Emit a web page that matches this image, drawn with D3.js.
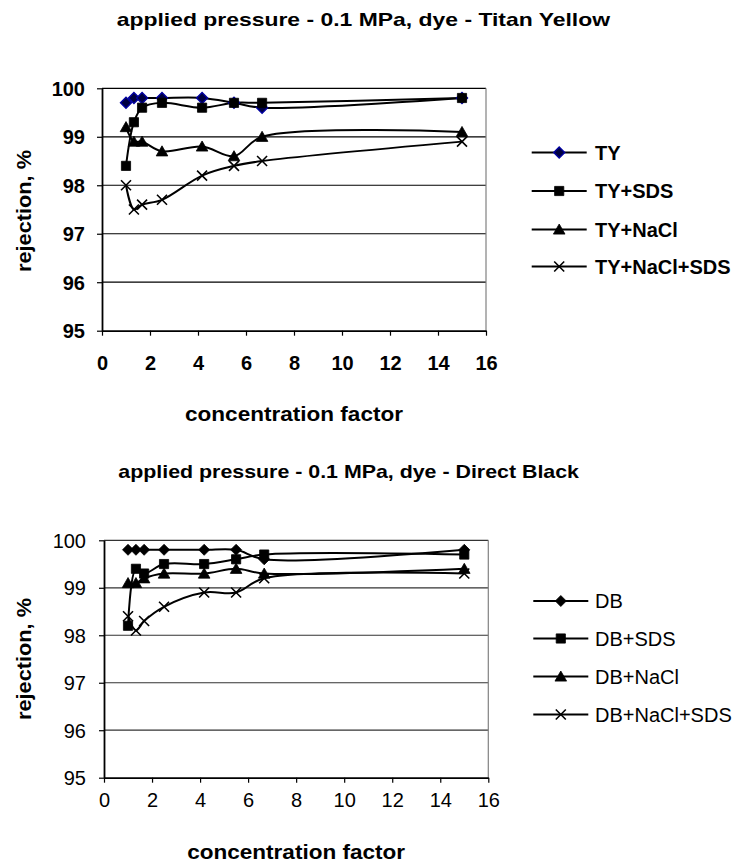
<!DOCTYPE html>
<html>
<head>
<meta charset="utf-8">
<script src="https://cdn.jsdelivr.net/npm/d3@7"></script>
<style>
  html, body { margin: 0; padding: 0; background: #fff; }
  svg { display: block; font-family: "Liberation Sans", Arial, Helvetica, sans-serif; }
</style>
</head>
<body>
<svg id="chart" width="736" height="865"></svg>
<script>
// Concentration factors shared by every series
const concentrationFactor = [1, 1.33, 1.67, 2.5, 4.17, 5.5, 6.67, 15];

// Axis ticks
const xTickValues = [0, 2, 4, 6, 8, 10, 12, 14, 16];
const yTickValues = [95, 96, 97, 98, 99, 100];

// Titan Yellow runs (rejection, %)
const tyNames = ["TY", "TY+SDS", "TY+NaCl", "TY+NaCl+SDS"];
const tyRejection = [99.7, 99.8, 99.8, 99.8, 99.8, 99.7, 99.6, 99.8];
const tySdsRejection = [98.4, 99.3, 99.6, 99.7, 99.6, 99.7, 99.7, 99.8];
const tyNaclRejection = [99.2, 98.9, 98.9, 98.7, 98.8, 98.6, 99.0, 99.1];
const tyNaclSdsRejection = [98.0, 97.5, 97.6, 97.7, 98.2, 98.4, 98.5, 98.9];

// Direct Black runs (rejection, %)
const dbNames = ["DB", "DB+SDS", "DB+NaCl", "DB+NaCl+SDS"];
const dbRejection = [99.8, 99.8, 99.8, 99.8, 99.8, 99.8, 99.6, 99.8];
const dbSdsRejection = [98.2, 99.4, 99.3, 99.5, 99.5, 99.6, 99.7, 99.7];
const dbNaclRejection = [99.1, 99.1, 99.2, 99.3, 99.3, 99.4, 99.3, 99.4];
const dbNaclSdsRejection = [98.4, 98.1, 98.3, 98.6, 98.9, 98.9, 99.2, 99.3];

const markerKinds = ["diamond", "square", "triangle", "cross"];

const svg = d3.select("#chart");

function markerPath(kind) {
  switch (kind) {
    case "diamond": return "M0,-5.5L5.5,0L0,5.5L-5.5,0Z";
    case "square": return "M-4.6,-4.6H4.6V4.6H-4.6Z";
    case "triangle": return "M0,-5.5L5.8,4.6H-5.8Z";
    default: return "M-5,-5L5,5M-5,5L5,-5";
  }
}

function drawMarker(g, kind, cx, cy, diamondColors) {
  const p = g.append("path")
    .attr("d", markerPath(kind))
    .attr("transform", `translate(${cx},${cy})`);
  if (kind === "cross") {
    p.attr("fill", "none").attr("stroke", "#000").attr("stroke-width", 1.6);
  } else if (kind === "diamond" && diamondColors) {
    p.attr("fill", diamondColors.fill).attr("stroke", diamondColors.stroke).attr("stroke-width", 1.4);
  } else {
    p.attr("fill", "#000").attr("stroke", "#000").attr("stroke-width", 0.8);
  }
}

function drawChart(cfg) {
  const weight = cfg.bold ? "bold" : "normal";
  const x = d3.scaleLinear().domain([0, 16]).range(cfg.xRange);
  const y = d3.scaleLinear().domain([95, 100]).range(cfg.yRange);
  const g = svg.append("g");

  // Title
  g.append("text")
    .attr("x", cfg.titleX[0])
    .attr("y", cfg.titleY)
    .attr("textLength", cfg.titleX[1] - cfg.titleX[0])
    .attr("lengthAdjust", "spacingAndGlyphs")
    .attr("font-size", 18.5)
    .attr("font-weight", "bold")
    .text(cfg.title);

  // Horizontal gridlines
  g.append("g").selectAll("line")
    .data(yTickValues.filter(v => v > 95))
    .join("line")
    .attr("x1", x(0)).attr("x2", x(16))
    .attr("y1", d => y(d)).attr("y2", d => y(d))
    .attr("stroke", cfg.gridColor)
    .attr("stroke-width", 1.2);

  // Right edge of the plot area
  g.append("line")
    .attr("x1", x(16)).attr("x2", x(16))
    .attr("y1", y(100)).attr("y2", y(95))
    .attr("stroke", "#808080").attr("stroke-width", 1.2);

  // Y axis
  const yAxis = g.append("g")
    .attr("transform", `translate(${x(0)},0)`)
    .call(d3.axisLeft(y).tickValues(yTickValues).tickSize(5).tickSizeOuter(0)
      .tickPadding(cfg.yPad).tickFormat(d3.format("d")));
  yAxis.select(".domain").attr("stroke", "#000").attr("stroke-width", 1.8);
  yAxis.selectAll(".tick line").attr("stroke", "#000").attr("stroke-width", 1.2);
  yAxis.selectAll(".tick text")
    .attr("font-size", 20).attr("font-weight", weight).attr("fill", "#000")
    .attr("font-family", null).attr("dy", "0.36em");

  // X axis
  const xAxis = g.append("g")
    .attr("transform", `translate(0,${y(95)})`)
    .call(d3.axisBottom(x).tickValues(xTickValues).tickSize(5).tickSizeOuter(0)
      .tickFormat(d3.format("d")));
  xAxis.select(".domain").attr("stroke", "#000").attr("stroke-width", 1.8);
  xAxis.selectAll(".tick line").attr("stroke", "#000").attr("stroke-width", 1.2);
  xAxis.selectAll(".tick text")
    .attr("font-size", 20).attr("font-weight", weight).attr("fill", "#000")
    .attr("font-family", null).attr("y", cfg.xLabelOffset).attr("dy", 0);

  // Axis titles
  g.append("text")
    .attr("x", (x(0) + x(16)) / 2 - cfg.xTitleLen / 2)
    .attr("y", cfg.xTitleY)
    .attr("textLength", cfg.xTitleLen)
    .attr("lengthAdjust", "spacingAndGlyphs")
    .attr("font-size", 20.5).attr("font-weight", "bold")
    .text("concentration factor");

  g.append("text")
    .attr("transform", `translate(${cfg.yTitleX},${cfg.yTitleCenter + cfg.yTitleLen / 2}) rotate(-90)`)
    .attr("textLength", cfg.yTitleLen)
    .attr("lengthAdjust", "spacingAndGlyphs")
    .attr("font-size", 20).attr("font-weight", "bold")
    .text("rejection, %");

  // Smoothed series lines, then their markers
  const line = d3.line()
    .x(d => x(d[0]))
    .y(d => y(d[1]))
    .curve(d3.curveCatmullRom.alpha(0.5));

  cfg.series.forEach(values => {
    const pts = concentrationFactor.map((c, i) => [c, values[i]]);
    g.append("path")
      .attr("d", line(pts))
      .attr("fill", "none")
      .attr("stroke", "#000")
      .attr("stroke-width", 2);
  });
  cfg.series.forEach((values, s) => {
    const mg = g.append("g");
    concentrationFactor.forEach((c, i) => {
      drawMarker(mg, markerKinds[s], x(c), y(values[i]), cfg.diamondColors);
    });
  });

  // Legend
  cfg.names.forEach((name, i) => {
    const ly = cfg.legendY[i];
    const lg = g.append("g");
    lg.append("line")
      .attr("x1", cfg.legendLine[0]).attr("x2", cfg.legendLine[1])
      .attr("y1", ly).attr("y2", ly)
      .attr("stroke", "#000").attr("stroke-width", 2);
    drawMarker(lg, markerKinds[i], (cfg.legendLine[0] + cfg.legendLine[1]) / 2, ly, cfg.diamondColors);
    lg.append("text")
      .attr("x", cfg.legendTextX)
      .attr("y", ly)
      .attr("dy", "0.36em")
      .attr("font-size", 20).attr("font-weight", weight)
      .text(name);
  });
}

drawChart({
  title: "applied pressure - 0.1 MPa, dye - Titan Yellow",
  titleX: [116.7, 610], titleY: 26,
  bold: true,
  xRange: [102, 486], yRange: [330.7, 88.3],
  gridColor: "#000",
  yPad: 12, xLabelOffset: 39.5,
  xTitleY: 421, xTitleLen: 218,
  yTitleX: 31, yTitleCenter: 211, yTitleLen: 122,
  series: [tyRejection, tySdsRejection, tyNaclRejection, tyNaclSdsRejection],
  names: tyNames,
  diamondColors: { fill: "#000040", stroke: "#0000a0" },
  legendY: [152.5, 191, 229.5, 266.5],
  legendLine: [531.7, 586.7], legendTextX: 595
});

drawChart({
  title: "applied pressure - 0.1 MPa, dye - Direct Black",
  titleX: [118.3, 579], titleY: 478,
  bold: false,
  xRange: [104, 488.3], yRange: [777.7, 540.3],
  gridColor: "#333",
  yPad: 13, xLabelOffset: 29,
  xTitleY: 859, xTitleLen: 218,
  yTitleX: 31, yTitleCenter: 659, yTitleLen: 122,
  series: [dbRejection, dbSdsRejection, dbNaclRejection, dbNaclSdsRejection],
  names: dbNames,
  diamondColors: null,
  legendY: [601, 638.5, 676.5, 714.5],
  legendLine: [533.3, 588.3], legendTextX: 595
});
</script>
</body>
</html>
